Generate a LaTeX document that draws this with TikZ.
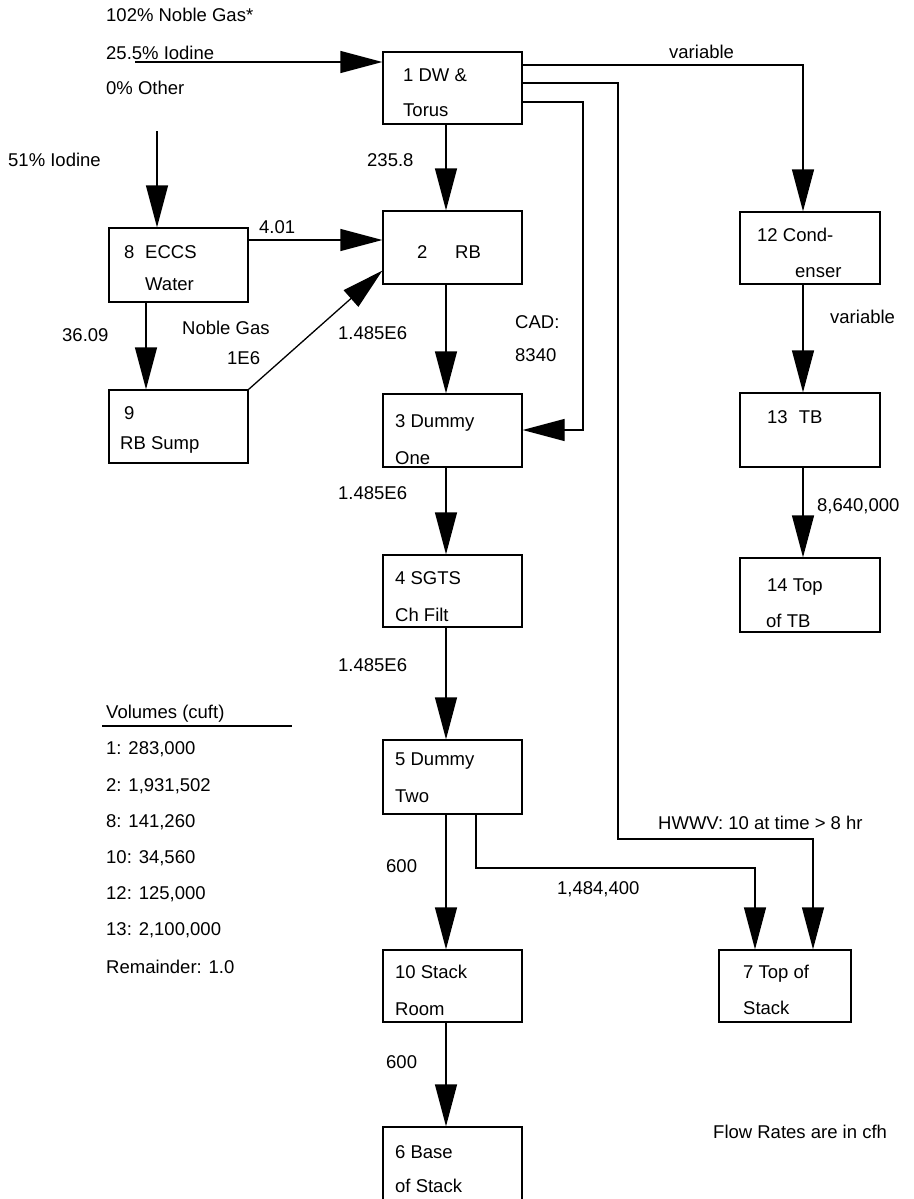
\documentclass[tikz,border=0pt]{standalone}
\usepackage{fontspec}
\setmainfont{Liberation Sans}
\usetikzlibrary{arrows.meta,fit,calc}
\tikzset{
  box/.style={draw, line width=1.3pt, inner sep=0pt},
  txt/.style={anchor=base west, inner sep=0pt, font=\fontsize{18.5}{22}\selectfont},
  flow/.style={line width=1.3pt, -{Triangle[length=42pt,width=22pt]}},
  plain/.style={line width=1.3pt},
}
\begin{document}
\begin{tikzpicture}[x=1pt,y=-1pt]
\useasboundingbox (0,0) rectangle (913,1199);
\clip (0,0) rectangle (913,1199);
% boxes
\node[box, fit={(383,52) (522,124)}] (b1) {};
\node[box, fit={(383,211) (522,284)}] (b2) {};
\node[box, fit={(383,394) (522,467)}] (b3) {};
\node[box, fit={(383,555) (522,627)}] (b4) {};
\node[box, fit={(383,740) (522,814)}] (b5) {};
\node[box, fit={(383,950) (522,1022)}] (b10) {};
\node[box, fit={(383,1127) (522,1215)}] (b6) {};
\node[box, fit={(109,228) (248,302)}] (b8) {};
\node[box, fit={(109,390) (248,463)}] (b9) {};
\node[box, fit={(740,212) (880,284)}] (b12) {};
\node[box, fit={(740,393) (880,467)}] (b13) {};
\node[box, fit={(740,558) (880,632)}] (b14) {};
\node[box, fit={(719,950) (851,1022)}] (b7) {};
% box texts
\node[txt] (t1a) at (403,81.5) {1 DW \&};
\node[txt] (t1b) at (403,116.5) {Torus};
\node[txt] (t2a) at (417,258.5) {2};
\node[txt] (t2b) at (455,258.5) {RB};
\node[txt] (t3a) at (395,427.5) {3 Dummy};
\node[txt] (t3b) at (395,464) {One};
\node[txt] (t4a) at (395,584.5) {4 SGTS};
\node[txt] (t4b) at (395,621.5) {Ch Filt};
\node[txt] (t5a) at (395,765.5) {5 Dummy};
\node[txt] (t5b) at (395,802.5) {Two};
\node[txt] (t10a) at (395,978.5) {10 Stack};
\node[txt] (t10b) at (395,1015.5) {Room};
\node[txt] (t6a) at (395,1158.5) {6 Base};
\node[txt] (t6b) at (395,1192.5) {of Stack};
\node[txt] (t8a) at (124,258.5) {8};
\node[txt] (t8b) at (145,258.5) {ECCS};
\node[txt] (t8c) at (145,290.5) {Water};
\node[txt] (t9a) at (124,419.5) {9};
\node[txt] (t9b) at (120,449.5) {RB Sump};
\node[txt] (t12a) at (757,241.5) {12 Cond-};
\node[txt] (t12b) at (795,277.5) {enser};
\node[txt] (t13a) at (767,423.5) {13\hspace{0.6em}TB};
\node[txt] (t14a) at (767,591.5) {14 Top};
\node[txt] (t14b) at (766,627.5) {of TB};
\node[txt] (t7a) at (743,978.5) {7 Top of};
\node[txt] (t7b) at (743,1014.5) {Stack};
% free labels
\node[txt] (l1) at (106,21.5) {102\% Noble Gas*};
\node[txt] (l2) at (106,59.5) {25.5\% Iodine};
\node[txt] (l3) at (106,94.5) {0\% Other};
\node[txt] (l4) at (8,166.5) {51\% Iodine};
\node[txt] (l5) at (367,166.5) {235.8};
\node[txt] (l6) at (669,58.5) {variable};
\node[txt] (l7) at (259,233.5) {4.01};
\node[txt] (l8) at (62,341.5) {36.09};
\node[txt] (l9) at (182,334.5) {Noble Gas};
\node[txt] (l10) at (227,364.5) {1E6};
\node[txt] (l11) at (338,339.5) {1.485E6};
\node[txt] (l12) at (515,328.5) {CAD:};
\node[txt] (l13) at (515,361.5) {8340};
\node[txt] (l14) at (830,323.5) {variable};
\node[txt] (l15) at (338,499.5) {1.485E6};
\node[txt] (l16) at (817,511.5) {8,640,000};
\node[txt] (l17) at (338,671.5) {1.485E6};
\node[txt] (l18) at (658,829.5) {HWWV: 10 at time > 8 hr};
\node[txt] (l19) at (386,872.5) {600};
\node[txt] (l20) at (557,894.5) {1,484,400};
\node[txt] (l21) at (386,1068.5) {600};
\node[txt] (l22) at (713,1138.5) {Flow Rates are in cfh};
% volumes
\node[txt] (v0) at (106,718.5) {Volumes (cuft)};
\coordinate (u1) at (102,726);
\coordinate (u2) at (292,726);
\draw[plain] (u1) -- (u2);
\node[txt] (v1) at (106,754.5) {1: 283,000};
\node[txt] (v2) at (106,791.5) {2: 1,931,502};
\node[txt] (v3) at (106,827.5) {8: 141,260};
\node[txt] (v4) at (106,863.5) {10: 34,560};
\node[txt] (v5) at (106,899.5) {12: 125,000};
\node[txt] (v6) at (106,935.5) {13: 2,100,000};
\node[txt] (v7) at (106,973.5) {Remainder: 1.0};
% helper coordinates
\coordinate (cx) at (446,0);
\coordinate (in1) at (135,62);
\coordinate (in8) at (157,131);
\coordinate (r240) at (0,240);
\coordinate (c146) at (146,0);
\coordinate (r65) at (0,65);
\coordinate (c803) at (803,0);
\coordinate (k1) at (583,102);
\coordinate (k2) at (583,430);
\coordinate (h1) at (618,83);
\coordinate (h2) at (618,839);
\coordinate (h3) at (813,839);
\coordinate (c813) at (813,0);
\coordinate (p1) at (476,868);
\coordinate (p2) at (755,868);
\coordinate (c476) at (476,0);
\coordinate (c755) at (755,0);
% connectors
\draw[flow] (in1) -- (in1 -| b1.west);
\draw[flow] (in8) -- (in8 |- b8.north);
\draw[flow] (b1.south -| cx) -- (b2.north -| cx);
\draw[flow] (b2.south -| cx) -- (b3.north -| cx);
\draw[flow] (b3.south -| cx) -- (b4.north -| cx);
\draw[flow] (b4.south -| cx) -- (b5.north -| cx);
\draw[flow] (b5.south -| cx) -- (b10.north -| cx);
\draw[flow] (b10.south -| cx) -- (b6.north -| cx);
\draw[flow] (b8.east |- r240) -- (b2.west |- r240);
\draw[flow] (b8.south -| c146) -- (b9.north -| c146);
\draw[flow] (b9.north east) -- ($(b2.south west)+(0,-14)$);
\draw[flow] (b1.east |- r65) -| (b12.north -| c803);
\draw[flow] (b12.south -| c803) -- (b13.north -| c803);
\draw[flow] (b13.south -| c803) -- (b14.north -| c803);
\draw[flow] (b1.east |- k1) -- (k1) -- (k2) -- (b3.east |- k2);
\draw[flow] (b1.east |- h1) -- (h1) -- (h2) -- (h3) -- (b7.north -| c813);
\draw[flow] (b5.south -| c476) -- (p1) -- (p2) -- (b7.north -| c755);
\end{tikzpicture}
\end{document}
